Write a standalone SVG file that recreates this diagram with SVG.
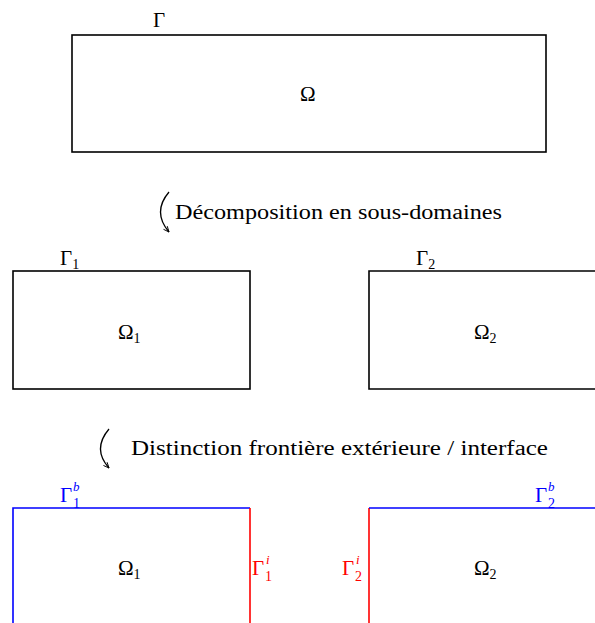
<svg xmlns="http://www.w3.org/2000/svg" width="595" height="623" viewBox="0 0 595 623">
<style>
.lbl{font-size:21px}
.sub{font-size:14px}
.sup{font-size:13px;font-style:italic}
.cap{font-size:20px}
.box{fill:none;stroke:#000;stroke-width:1.6}
.bl{stroke:#0000ff;stroke-width:1.6;fill:none}
.rd{stroke:#ff0000;stroke-width:1.6;fill:none}
.b{fill:#0000ff}
.r{fill:#ff0000}
.arr{fill:none;stroke:#000;stroke-width:1.3}
</style>
<defs>
<marker id="ah" viewBox="0 0 10 10" refX="9" refY="5" markerWidth="7" markerHeight="7" orient="auto" markerUnits="userSpaceOnUse">
<path d="M1,1.5 L9,5 L1,8.5" fill="none" stroke="#000" stroke-width="1.3"/>
</marker>
</defs>
<g font-family="Liberation Serif, DejaVu Serif, serif">
<g id="omega">
<rect class="box" x="72" y="35" width="474" height="117"/>
<text class="lbl" x="153" y="27">Γ</text>
<text class="lbl" x="300" y="101">Ω</text>
</g>
<g id="omega1">
<rect class="box" x="13" y="271" width="237" height="118"/>
<text class="lbl" x="60" y="265">Γ<tspan class="sub" dy="4">1</tspan></text>
<text class="lbl" x="118" y="339">Ω<tspan class="sub" dy="4">1</tspan></text>
</g>
<g id="omega2">
<path class="box" d="M596,271 H369 V389 H596"/>
<text class="lbl" x="416" y="265">Γ<tspan class="sub" dy="4">2</tspan></text>
<text class="lbl" x="474" y="339">Ω<tspan class="sub" dy="4">2</tspan></text>
</g>
<g id="omega1b">
<path class="bl" d="M13,624 V508 H250"/>
<path class="rd" d="M250,508 V624"/>
<text class="lbl b" x="60" y="502">Γ</text>
<text class="sup b" x="73" y="491">b</text>
<text class="sub b" x="73" y="508">1</text>
<text class="lbl" x="118" y="575">Ω<tspan class="sub" dy="4">1</tspan></text>
<text class="lbl r" x="252" y="575">Γ</text>
<text class="sup r" x="266" y="564">i</text>
<text class="sub r" x="265" y="581">1</text>
</g>
<g id="omega2b">
<path class="rd" d="M369,624 V508"/>
<path class="bl" d="M369,508 H596"/>
<text class="lbl b" x="535" y="502">Γ</text>
<text class="sup b" x="548" y="491">b</text>
<text class="sub b" x="548" y="508">2</text>
<text class="lbl" x="474" y="575">Ω<tspan class="sub" dy="4">2</tspan></text>
<text class="lbl r" x="342" y="575">Γ</text>
<text class="sup r" x="356" y="564">i</text>
<text class="sub r" x="355" y="581">2</text>
</g>
<g id="connectors">
<path class="arr" d="M169,192 Q152,212 169,232" marker-end="url(#ah)"/>
<text class="cap" x="175" y="219" textLength="327" lengthAdjust="spacingAndGlyphs">Décomposition en sous-domaines</text>
<path class="arr" d="M109,429 Q92,449 109,468" marker-end="url(#ah)"/>
<text class="cap" x="131" y="455" textLength="417" lengthAdjust="spacingAndGlyphs">Distinction frontière extérieure / interface</text>
</g>
</g>
</svg>
